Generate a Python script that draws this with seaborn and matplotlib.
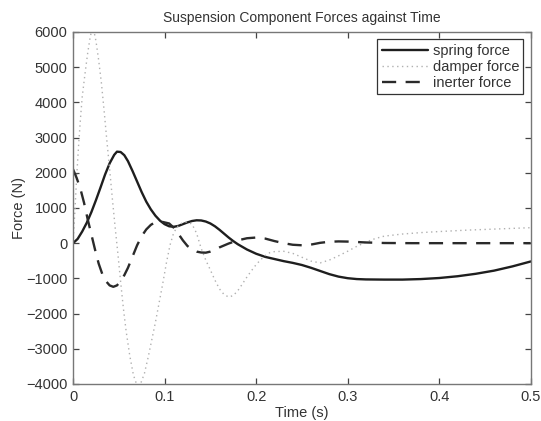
import matplotlib
matplotlib.use("Agg")
import matplotlib.pyplot as plt
import seaborn as sns

# values
spring_t = [0, 0.005, 0.01, 0.015, 0.02, 0.025, 0.03, 0.035, 0.04, 0.045, 0.048, 0.052,
            0.056, 0.06, 0.065, 0.07, 0.075, 0.08, 0.085, 0.09, 0.095, 0.1, 0.105, 0.11,
            0.115, 0.12, 0.125, 0.13, 0.135, 0.14, 0.145, 0.15, 0.155, 0.16, 0.165, 0.17,
            0.175, 0.18, 0.19, 0.2, 0.21, 0.22, 0.23, 0.24, 0.25, 0.26, 0.27, 0.28, 0.29,
            0.3, 0.31, 0.32, 0.34, 0.36, 0.38, 0.4, 0.42, 0.44, 0.46, 0.48, 0.5]
spring_f = [0, 120, 330, 580, 880, 1220, 1580, 1950, 2270, 2510, 2600, 2590,
            2500, 2330, 2050, 1750, 1450, 1180, 960, 780, 640, 540, 480, 465,
            490, 540, 590, 630, 650, 645, 615, 560, 480, 380, 270, 160,
            60, -30, -180, -300, -390, -450, -510, -560, -620, -700, -790, -880, -950,
            -995, -1020, -1030, -1035, -1035, -1020, -990, -940, -870, -780, -660, -520]

damper_t = [0, 0.002, 0.004, 0.006, 0.008, 0.01, 0.013, 0.016, 0.019, 0.021, 0.023, 0.025,
            0.028, 0.031, 0.034, 0.037, 0.04, 0.043, 0.046, 0.049, 0.052, 0.055, 0.058,
            0.062, 0.066, 0.07, 0.074, 0.078, 0.082, 0.086, 0.09, 0.094, 0.098, 0.102,
            0.106, 0.11, 0.115, 0.12, 0.125, 0.13, 0.135, 0.14, 0.145, 0.15, 0.155, 0.16,
            0.165, 0.17, 0.175, 0.18, 0.185, 0.19, 0.195, 0.2, 0.205, 0.21, 0.215, 0.22,
            0.23, 0.24, 0.25, 0.26, 0.27, 0.28, 0.29, 0.3, 0.31, 0.32, 0.33, 0.34, 0.36,
            0.38, 0.4, 0.43, 0.46, 0.5]
damper_f = [0, 900, 1900, 2750, 3500, 4150, 4800, 5400, 5900, 6050, 6000, 5750,
            5200, 4550, 3750, 2900, 2100, 1250, 450, -300, -1100, -1850, -2500,
            -3200, -3750, -4050, -3980, -3700, -3250, -2750, -2250, -1700, -1150, -560,
            -50, 300, 500, 590, 600, 540, 280, -150, -480, -760, -1050, -1300,
            -1460, -1530, -1490, -1350, -1160, -960, -780, -610, -470, -350, -270, -240,
            -230, -290, -400, -510, -560, -480, -360, -230, -90, 30, 130, 200, 260,
            300, 330, 370, 400, 440]

inerter_t = [0, 0.004, 0.008, 0.012, 0.016, 0.02, 0.024, 0.028, 0.032, 0.036, 0.04, 0.044,
             0.048, 0.052, 0.056, 0.06, 0.065, 0.07, 0.075, 0.08, 0.085, 0.09, 0.095, 0.1,
             0.105, 0.11, 0.115, 0.12, 0.125, 0.13, 0.135, 0.14, 0.145, 0.15, 0.155, 0.16,
             0.17, 0.18, 0.19, 0.2, 0.21, 0.22, 0.23, 0.24, 0.25, 0.26, 0.27, 0.28, 0.29,
             0.3, 0.32, 0.34, 0.37, 0.4, 0.45, 0.5]
inerter_f = [2100, 1850, 1550, 1150, 680, 250, -180, -580, -880, -1080, -1200, -1240,
             -1200, -1080, -910, -700, -380, -60, 200, 390, 520, 600, 620, 590,
             560, 440, 270, 80, -80, -180, -240, -265, -270, -240, -190, -120,
             -10, 80, 140, 160, 130, 60, 0, -45, -60, -40, 10, 40, 50,
             45, 20, 5, 0, 0, 0, 0]

x_ticks = [0, 0.1, 0.2, 0.3, 0.4, 0.5]
x_tick_labels = ["0", "0.1", "0.2", "0.3", "0.4", "0.5"]
y_ticks = [-4000, -3000, -2000, -1000, 0, 1000, 2000, 3000, 4000, 5000, 6000]

sns.set_style("ticks")
plt.rcParams["font.family"] = ["Liberation Sans", "DejaVu Sans"]
plt.rcParams["xtick.direction"] = "in"
plt.rcParams["ytick.direction"] = "in"

fig = plt.figure(figsize=(5.41, 4.21), dpi=100)
ax = fig.add_axes([0.135, 0.088, 0.846, 0.836])

sns.lineplot(x=spring_t, y=spring_f, ax=ax, color="#1e1e1e", linewidth=1.7,
             label="spring force", sort=False)
sns.lineplot(x=damper_t, y=damper_f, ax=ax, color="#b0b0b0", linewidth=1.0,
             label="damper force", sort=False)
sns.lineplot(x=inerter_t, y=inerter_f, ax=ax, color="#2a2a2a", linewidth=1.7,
             label="inerter force", sort=False)
ax.lines[1].set_linestyle((0, (1, 2.5)))
ax.lines[2].set_linestyle((0, (6, 4)))

ax.set_xlim(0, 0.5)
ax.set_ylim(-4000, 6000)
ax.set_xticks(x_ticks)
ax.set_xticklabels(x_tick_labels)
ax.set_yticks(y_ticks)
ax.tick_params(top=True, right=True, length=4, width=0.9, colors="#444444",
               labelcolor="#333333", labelsize=10.5, pad=4)
for s in ax.spines.values():
    s.set_color("#777777")
    s.set_linewidth(1.0)

ax.set_title("Suspension Component Forces against Time", fontsize=10, color="#333333", pad=7)
ax.set_xlabel("Time (s)", fontsize=10.5, color="#333333", labelpad=2)
ax.set_ylabel("Force (N)", fontsize=10.5, color="#333333", labelpad=0)

leg = ax.legend(loc="upper right", fontsize=10.5, handlelength=3.2, handletextpad=0.3,
                borderpad=0.3, labelspacing=0.15, fancybox=False, framealpha=1,
                borderaxespad=0.5)
leg.get_frame().set_edgecolor("#333333")
leg.get_frame().set_linewidth(0.9)
for t in leg.get_texts():
    t.set_color("#333333")

fig.savefig("out.png", dpi=100)
